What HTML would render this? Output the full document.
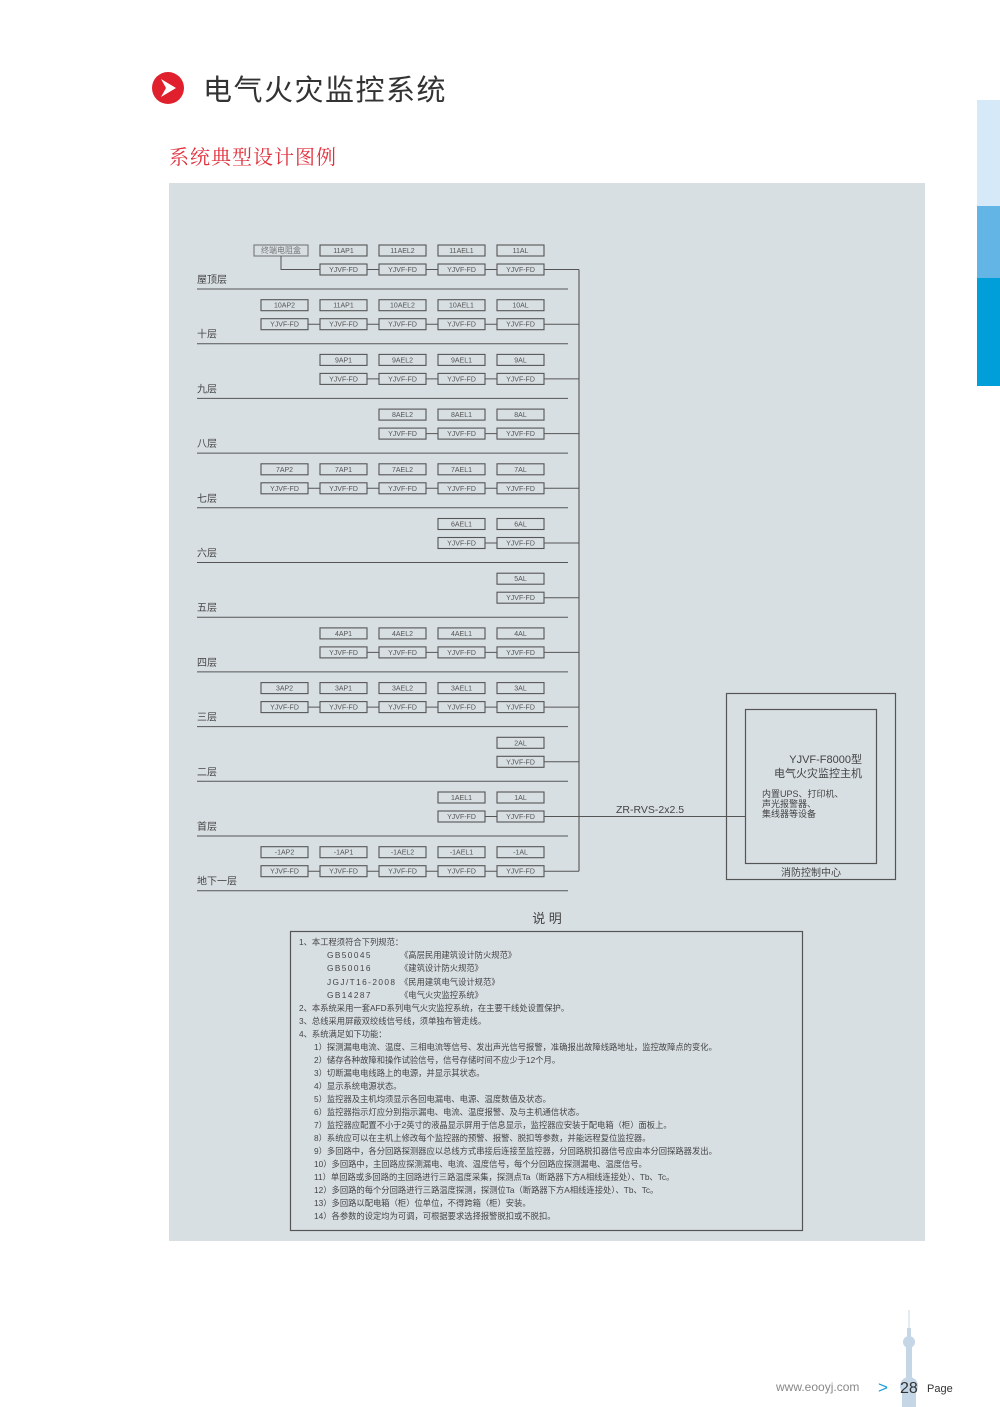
<!DOCTYPE html>
<html><head><meta charset="utf-8">
<style>
html,body{margin:0;padding:0;background:#fff;}
body{width:1000px;height:1407px;position:relative;overflow:hidden;font-family:"Liberation Sans","Noto Sans CJK SC",sans-serif;}
.abs{position:absolute;}
</style></head><body>
<div class="abs" style="left:977px;top:100px;width:23px;height:106px;background:#d6e9f8"></div>
<div class="abs" style="left:977px;top:206px;width:23px;height:72px;background:#62b5e5"></div>
<div class="abs" style="left:977px;top:278px;width:23px;height:108px;background:#009fd9"></div>

<svg class="abs" style="left:0;top:0" width="1000" height="1407" viewBox="0 0 1000 1407" font-family="Liberation Sans, Noto Sans CJK SC, sans-serif">
<circle cx="168" cy="88" r="16" fill="#e0202c"/>
<path d="M161 79 L176 88 L161 97 L166 88 Z" fill="#fff"/>
<text x="203" y="100" font-size="29" fill="#333" letter-spacing="1.5">电气火灾监控系统</text>
<text x="169" y="164" font-size="20" fill="#e0303c" font-family="Noto Serif CJK SC, serif" letter-spacing="1">系统典型设计图例</text>
<rect x="169" y="183" width="756" height="1058" fill="#d8dfe3"/>

<defs>
<g id="b"><rect x="0" y="0" width="47" height="11" fill="none" stroke="#555" stroke-width="1.1"/></g>
</defs>
<g font-size="7" fill="#555" text-anchor="middle" stroke="none">
<g transform="translate(0,245)">
<rect x="254" y="0" width="54" height="11" fill="none" stroke="#777" stroke-width="1.1"/><text x="281" y="8" font-size="8" fill="#777">终端电阻盒</text>
<use href="#b" x="320"/><text x="343.5" y="8">11AP1</text>
<use href="#b" x="379"/><text x="402.5" y="8">11AEL2</text>
<use href="#b" x="438"/><text x="461.5" y="8">11AEL1</text>
<use href="#b" x="497"/><text x="520.5" y="8">11AL</text>
<path d="M281 11 V24.5 H320" stroke="#555" fill="none"/>
<use href="#b" x="320" y="19"/><text x="343.5" y="27">YJVF-FD</text>
<use href="#b" x="379" y="19"/><text x="402.5" y="27">YJVF-FD</text>
<use href="#b" x="438" y="19"/><text x="461.5" y="27">YJVF-FD</text>
<use href="#b" x="497" y="19"/><text x="520.5" y="27">YJVF-FD</text>
<path d="M367 24.5H379M426 24.5H438M485 24.5H497M544 24.5H579" stroke="#555"/>
<text x="197" y="38" font-size="10" text-anchor="start" fill="#444">屋顶层</text>
<path d="M197 44H568" stroke="#555"/>
</g>
<g transform="translate(0,299.7)">
<use href="#b" x="261"/><text x="284.5" y="8">10AP2</text>
<use href="#b" x="320"/><text x="343.5" y="8">11AP1</text>
<use href="#b" x="379"/><text x="402.5" y="8">10AEL2</text>
<use href="#b" x="438"/><text x="461.5" y="8">10AEL1</text>
<use href="#b" x="497"/><text x="520.5" y="8">10AL</text>
<use href="#b" x="261" y="19"/><text x="284.5" y="27">YJVF-FD</text>
<use href="#b" x="320" y="19"/><text x="343.5" y="27">YJVF-FD</text>
<use href="#b" x="379" y="19"/><text x="402.5" y="27">YJVF-FD</text>
<use href="#b" x="438" y="19"/><text x="461.5" y="27">YJVF-FD</text>
<use href="#b" x="497" y="19"/><text x="520.5" y="27">YJVF-FD</text>
<path d="M308 24.5H320M367 24.5H379M426 24.5H438M485 24.5H497M544 24.5H579" stroke="#555"/>
<text x="197" y="38" font-size="10" text-anchor="start" fill="#444">十层</text>
<path d="M197 44H568" stroke="#555"/>
</g>
<g transform="translate(0,354.4)">
<use href="#b" x="320"/><text x="343.5" y="8">9AP1</text>
<use href="#b" x="379"/><text x="402.5" y="8">9AEL2</text>
<use href="#b" x="438"/><text x="461.5" y="8">9AEL1</text>
<use href="#b" x="497"/><text x="520.5" y="8">9AL</text>
<use href="#b" x="320" y="19"/><text x="343.5" y="27">YJVF-FD</text>
<use href="#b" x="379" y="19"/><text x="402.5" y="27">YJVF-FD</text>
<use href="#b" x="438" y="19"/><text x="461.5" y="27">YJVF-FD</text>
<use href="#b" x="497" y="19"/><text x="520.5" y="27">YJVF-FD</text>
<path d="M367 24.5H379M426 24.5H438M485 24.5H497M544 24.5H579" stroke="#555"/>
<text x="197" y="38" font-size="10" text-anchor="start" fill="#444">九层</text>
<path d="M197 44H568" stroke="#555"/>
</g>
<g transform="translate(0,409.1)">
<use href="#b" x="379"/><text x="402.5" y="8">8AEL2</text>
<use href="#b" x="438"/><text x="461.5" y="8">8AEL1</text>
<use href="#b" x="497"/><text x="520.5" y="8">8AL</text>
<use href="#b" x="379" y="19"/><text x="402.5" y="27">YJVF-FD</text>
<use href="#b" x="438" y="19"/><text x="461.5" y="27">YJVF-FD</text>
<use href="#b" x="497" y="19"/><text x="520.5" y="27">YJVF-FD</text>
<path d="M426 24.5H438M485 24.5H497M544 24.5H579" stroke="#555"/>
<text x="197" y="38" font-size="10" text-anchor="start" fill="#444">八层</text>
<path d="M197 44H568" stroke="#555"/>
</g>
<g transform="translate(0,463.8)">
<use href="#b" x="261"/><text x="284.5" y="8">7AP2</text>
<use href="#b" x="320"/><text x="343.5" y="8">7AP1</text>
<use href="#b" x="379"/><text x="402.5" y="8">7AEL2</text>
<use href="#b" x="438"/><text x="461.5" y="8">7AEL1</text>
<use href="#b" x="497"/><text x="520.5" y="8">7AL</text>
<use href="#b" x="261" y="19"/><text x="284.5" y="27">YJVF-FD</text>
<use href="#b" x="320" y="19"/><text x="343.5" y="27">YJVF-FD</text>
<use href="#b" x="379" y="19"/><text x="402.5" y="27">YJVF-FD</text>
<use href="#b" x="438" y="19"/><text x="461.5" y="27">YJVF-FD</text>
<use href="#b" x="497" y="19"/><text x="520.5" y="27">YJVF-FD</text>
<path d="M308 24.5H320M367 24.5H379M426 24.5H438M485 24.5H497M544 24.5H579" stroke="#555"/>
<text x="197" y="38" font-size="10" text-anchor="start" fill="#444">七层</text>
<path d="M197 44H568" stroke="#555"/>
</g>
<g transform="translate(0,518.5)">
<use href="#b" x="438"/><text x="461.5" y="8">6AEL1</text>
<use href="#b" x="497"/><text x="520.5" y="8">6AL</text>
<use href="#b" x="438" y="19"/><text x="461.5" y="27">YJVF-FD</text>
<use href="#b" x="497" y="19"/><text x="520.5" y="27">YJVF-FD</text>
<path d="M485 24.5H497M544 24.5H579" stroke="#555"/>
<text x="197" y="38" font-size="10" text-anchor="start" fill="#444">六层</text>
<path d="M197 44H568" stroke="#555"/>
</g>
<g transform="translate(0,573.2)">
<use href="#b" x="497"/><text x="520.5" y="8">5AL</text>
<use href="#b" x="497" y="19"/><text x="520.5" y="27">YJVF-FD</text>
<path d="M544 24.5H579" stroke="#555"/>
<text x="197" y="38" font-size="10" text-anchor="start" fill="#444">五层</text>
<path d="M197 44H568" stroke="#555"/>
</g>
<g transform="translate(0,627.9)">
<use href="#b" x="320"/><text x="343.5" y="8">4AP1</text>
<use href="#b" x="379"/><text x="402.5" y="8">4AEL2</text>
<use href="#b" x="438"/><text x="461.5" y="8">4AEL1</text>
<use href="#b" x="497"/><text x="520.5" y="8">4AL</text>
<use href="#b" x="320" y="19"/><text x="343.5" y="27">YJVF-FD</text>
<use href="#b" x="379" y="19"/><text x="402.5" y="27">YJVF-FD</text>
<use href="#b" x="438" y="19"/><text x="461.5" y="27">YJVF-FD</text>
<use href="#b" x="497" y="19"/><text x="520.5" y="27">YJVF-FD</text>
<path d="M367 24.5H379M426 24.5H438M485 24.5H497M544 24.5H579" stroke="#555"/>
<text x="197" y="38" font-size="10" text-anchor="start" fill="#444">四层</text>
<path d="M197 44H568" stroke="#555"/>
</g>
<g transform="translate(0,682.6)">
<use href="#b" x="261"/><text x="284.5" y="8">3AP2</text>
<use href="#b" x="320"/><text x="343.5" y="8">3AP1</text>
<use href="#b" x="379"/><text x="402.5" y="8">3AEL2</text>
<use href="#b" x="438"/><text x="461.5" y="8">3AEL1</text>
<use href="#b" x="497"/><text x="520.5" y="8">3AL</text>
<use href="#b" x="261" y="19"/><text x="284.5" y="27">YJVF-FD</text>
<use href="#b" x="320" y="19"/><text x="343.5" y="27">YJVF-FD</text>
<use href="#b" x="379" y="19"/><text x="402.5" y="27">YJVF-FD</text>
<use href="#b" x="438" y="19"/><text x="461.5" y="27">YJVF-FD</text>
<use href="#b" x="497" y="19"/><text x="520.5" y="27">YJVF-FD</text>
<path d="M308 24.5H320M367 24.5H379M426 24.5H438M485 24.5H497M544 24.5H579" stroke="#555"/>
<text x="197" y="38" font-size="10" text-anchor="start" fill="#444">三层</text>
<path d="M197 44H568" stroke="#555"/>
</g>
<g transform="translate(0,737.3)">
<use href="#b" x="497"/><text x="520.5" y="8">2AL</text>
<use href="#b" x="497" y="19"/><text x="520.5" y="27">YJVF-FD</text>
<path d="M544 24.5H579" stroke="#555"/>
<text x="197" y="38" font-size="10" text-anchor="start" fill="#444">二层</text>
<path d="M197 44H568" stroke="#555"/>
</g>
<g transform="translate(0,792)">
<use href="#b" x="438"/><text x="461.5" y="8">1AEL1</text>
<use href="#b" x="497"/><text x="520.5" y="8">1AL</text>
<use href="#b" x="438" y="19"/><text x="461.5" y="27">YJVF-FD</text>
<use href="#b" x="497" y="19"/><text x="520.5" y="27">YJVF-FD</text>
<path d="M485 24.5H497M544 24.5H579" stroke="#555"/>
<text x="197" y="38" font-size="10" text-anchor="start" fill="#444">首层</text>
<path d="M197 44H568" stroke="#555"/>
</g>
<g transform="translate(0,846.7)">
<use href="#b" x="261"/><text x="284.5" y="8">-1AP2</text>
<use href="#b" x="320"/><text x="343.5" y="8">-1AP1</text>
<use href="#b" x="379"/><text x="402.5" y="8">-1AEL2</text>
<use href="#b" x="438"/><text x="461.5" y="8">-1AEL1</text>
<use href="#b" x="497"/><text x="520.5" y="8">-1AL</text>
<use href="#b" x="261" y="19"/><text x="284.5" y="27">YJVF-FD</text>
<use href="#b" x="320" y="19"/><text x="343.5" y="27">YJVF-FD</text>
<use href="#b" x="379" y="19"/><text x="402.5" y="27">YJVF-FD</text>
<use href="#b" x="438" y="19"/><text x="461.5" y="27">YJVF-FD</text>
<use href="#b" x="497" y="19"/><text x="520.5" y="27">YJVF-FD</text>
<path d="M308 24.5H320M367 24.5H379M426 24.5H438M485 24.5H497M544 24.5H579" stroke="#555"/>
<text x="197" y="38" font-size="10" text-anchor="start" fill="#444">地下一层</text>
<path d="M197 44H568" stroke="#555"/>
</g>
</g>
<path d="M579 269.5V871.2" stroke="#555" stroke-width="1.1"/>
<path d="M579 816.5H745" stroke="#555" stroke-width="1.1"/>
<text x="616" y="813" font-size="10.5" fill="#444">ZR-RVS-2x2.5</text>
<rect x="726.5" y="693.5" width="169" height="186" fill="none" stroke="#555" stroke-width="1.2"/>
<rect x="745.5" y="709.5" width="131" height="154" fill="none" stroke="#555" stroke-width="1.2"/>
<text x="862" y="763" font-size="11" fill="#444" text-anchor="end">YJVF-F8000型</text>
<text x="862" y="777" font-size="11" fill="#444" text-anchor="end">电气火灾监控主机</text>
<text x="762" y="797" font-size="9" fill="#444">内置UPS、打印机、</text>
<text x="762" y="807" font-size="9" fill="#444">声光报警器、</text>
<text x="762" y="817" font-size="9" fill="#444">集线器等设备</text>
<text x="811" y="876" font-size="10" fill="#444" text-anchor="middle">消防控制中心</text>

<text x="547" y="923" font-size="13" fill="#444" text-anchor="middle">说 明</text>
<rect x="290.5" y="931.5" width="512" height="299" fill="none" stroke="#555" stroke-width="1.2"/>
<g font-size="8.3" fill="#444">
<text x="299" y="945">1、本工程须符合下列规范：</text>
<text x="327" y="958" letter-spacing="1.4">GB50045</text><text x="400" y="958">《高层民用建筑设计防火规范》</text>
<text x="327" y="971" letter-spacing="1.4">GB50016</text><text x="400" y="971">《建筑设计防火规范》</text>
<text x="327" y="985" letter-spacing="1.4">JGJ/T16-2008</text><text x="400" y="985">《民用建筑电气设计规范》</text>
<text x="327" y="998" letter-spacing="1.4">GB14287</text><text x="400" y="998">《电气火灾监控系统》</text>
<text x="299" y="1011">2、本系统采用一套AFD系列电气火灾监控系统，在主要干线处设置保护。</text>
<text x="299" y="1024">3、总线采用屏蔽双绞线信号线，须单独布管走线。</text>
<text x="299" y="1037">4、系统满足如下功能：</text>
<text x="314" y="1050">1）探测漏电电流、温度、三相电流等信号、发出声光信号报警，准确报出故障线路地址，监控故障点的变化。</text>
<text x="314" y="1063">2）储存各种故障和操作试验信号，信号存储时间不应少于12个月。</text>
<text x="314" y="1076">3）切断漏电电线路上的电源，并显示其状态。</text>
<text x="314" y="1089">4）显示系统电源状态。</text>
<text x="314" y="1102">5）监控器及主机均须显示各回电漏电、电源、温度数值及状态。</text>
<text x="314" y="1115">6）监控器指示灯应分别指示漏电、电流、温度报警、及与主机通信状态。</text>
<text x="314" y="1128">7）监控器应配置不小于2英寸的液晶显示屏用于信息显示，监控器应安装于配电箱（柜）面板上。</text>
<text x="314" y="1141">8）系统应可以在主机上修改每个监控器的预警、报警、脱扣等参数，并能远程复位监控器。</text>
<text x="314" y="1154">9）多回路中，各分回路探测器应以总线方式串接后连接至监控器，分回路脱扣器信号应由本分回探路器发出。</text>
<text x="314" y="1167">10）多回路中，主回路应探测漏电、电流、温度信号，每个分回路应探测漏电、温度信号。</text>
<text x="314" y="1180">11）单回路或多回路的主回路进行三路温度采集，探测点Ta（断路器下方A相线连接处）、Tb、Tc。</text>
<text x="314" y="1193">12）多回路的每个分回路进行三路温度探测，探测位Ta（断路器下方A相线连接处）、Tb、Tc。</text>
<text x="314" y="1206">13）多回路以配电箱（柜）位单位，不得跨箱（柜）安装。</text>
<text x="314" y="1219">14）各参数的设定均为可调，可根据要求选择报警脱扣或不脱扣。</text>
</g>

<g fill="#c5d6e6">
<rect x="908.5" y="1310" width="1" height="20"/>
<rect x="907" y="1328" width="4" height="10"/>
<circle cx="909" cy="1342" r="6"/>
<rect x="906" y="1346" width="6" height="35"/>
<circle cx="909" cy="1386" r="9"/>
<rect x="902" y="1390" width="14" height="17"/>
</g>
<text x="776" y="1391" font-size="12" fill="#888">www.eooyj.com</text>
<text x="878" y="1393" font-size="17" fill="#1a9ad6">&gt;</text>
<text x="900" y="1393" font-size="16" fill="#333">28</text>
<text x="927" y="1392" font-size="11" fill="#333">Page</text>
</svg>
</body></html>
